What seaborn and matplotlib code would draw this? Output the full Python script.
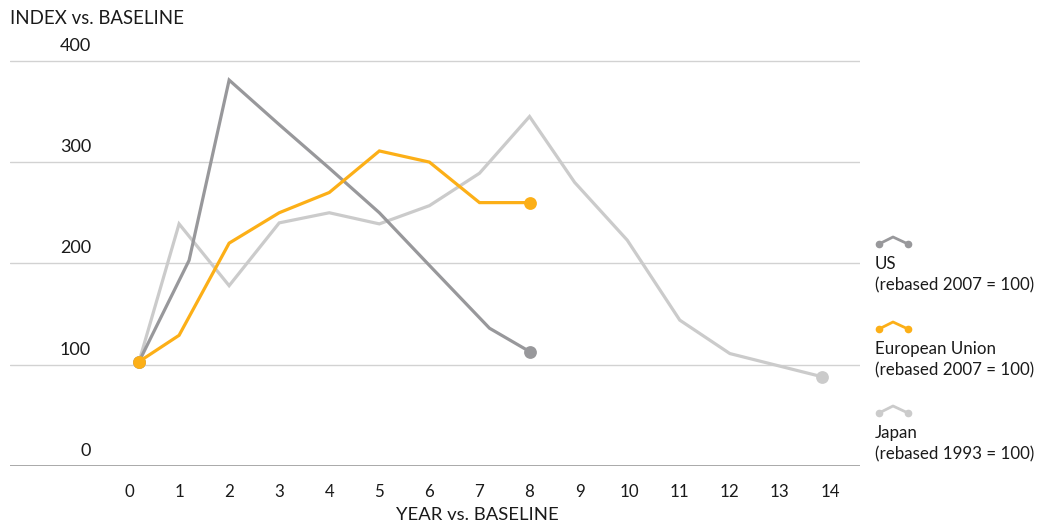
import matplotlib
matplotlib.use("Agg")
import matplotlib.pyplot as plt
from matplotlib.lines import Line2D
import matplotlib.transforms as mtransforms
import numpy as np
import pandas as pd
import seaborn as sns

# Series data (index vs. baseline, baseline = 100)
us_years = [0.2, 1.2, 2, 3, 4, 5, 6, 7.2, 8]
us_index = [103, 203, 381, 337, 294, 250, 198, 136, 113]

eu_years = [0.2, 1, 2, 3, 4, 5, 6, 7, 8]
eu_index = [103, 129, 220, 250, 270, 311, 300, 260, 260]

jp_years = [0.2, 1, 2, 3, 4, 5, 6, 7, 8, 8.9, 9.95, 11, 12, 13.85]
jp_index = [103, 239, 178, 240, 250, 239, 257, 289, 345, 280, 223, 144, 111, 88]

series_names = ["Japan", "US", "European Union"]
legend_notes = {
    "US": "(rebased 2007 = 100)",
    "European Union": "(rebased 2007 = 100)",
    "Japan": "(rebased 1993 = 100)",
}
colors = {"US": "#98989b", "European Union": "#fcaf17", "Japan": "#cbcbcb"}

x_ticks = list(range(0, 15))
y_ticks = [0, 100, 200, 300, 400]

frames = {
    "US": pd.DataFrame({"year": us_years, "index": us_index}),
    "European Union": pd.DataFrame({"year": eu_years, "index": eu_index}),
    "Japan": pd.DataFrame({"year": jp_years, "index": jp_index}),
}

sns.set_theme(style="white")
plt.rcParams["font.family"] = ["Lato", "DejaVu Sans"]
TXT = "#1a1a1a"

W, H = 1045, 526
fig = plt.figure(figsize=(W / 100, H / 100), dpi=100)
# axes area in pixels: left 10, right 860, top 30, bottom 466
ax = fig.add_axes([10 / W, (H - 466) / H, 850 / W, (466 - 30) / H])

px_per_year = 50.07
ax.set_xlim((10 - 129) / px_per_year, (860 - 129) / px_per_year)
ax.set_ylim(0, (466 - 30) / 1.013)

for z, name in enumerate(series_names):
    df = frames[name]
    sns.lineplot(data=df, x="year", y="index", ax=ax, color=colors[name],
                 linewidth=2.3, sort=False, estimator=None, zorder=3 + z,
                 solid_joinstyle="miter")
    ends = df.iloc[[0, -1]]
    sns.scatterplot(data=ends, x="year", y="index", ax=ax, color=colors[name],
                    s=85, linewidth=0, zorder=3 + z)

# gridlines and y labels sitting above each line
for v in y_ticks:
    if v == 0:
        ax.axhline(v, color="#a9a9a9", linewidth=1.4, zorder=1)
    else:
        ax.axhline(v, color="#d2d2d2", linewidth=1.0, zorder=1)
    trans = mtransforms.blended_transform_factory(ax.transAxes, ax.transData)
    trans = mtransforms.offset_copy(trans, fig=fig, x=0, y=15, units="dots")
    ax.text((91 - 10) / 850, v, str(v), transform=trans, ha="right",
            va="center", fontsize=13, color=TXT)

ax.set_yticks([])
ax.set_xticks(x_ticks)
ax.set_xticklabels([str(t) for t in x_ticks], fontsize=12.2, color=TXT)
ax.tick_params(axis="x", length=0, pad=13)
ax.set_xlabel("")
ax.set_ylabel("")
for s in ax.spines.values():
    s.set_visible(False)

fig.text(10 / W, 1 - 19 / H, "INDEX vs. BASELINE", ha="left", va="center",
         fontsize=13.4, color=TXT)
fig.text(477 / W, 1 - 515 / H, "YEAR vs. BASELINE", ha="center", va="center",
         fontsize=13.3, color=TXT)

# legend entries on the right
legend_rows = [("US", 244), ("European Union", 329), ("Japan", 413)]
for name, y_icon in legend_rows:
    xs = np.array([879, 893, 908]) / W
    ys = 1 - np.array([y_icon, y_icon - 7, y_icon]) / H
    fig.add_artist(Line2D(xs, ys, color=colors[name], linewidth=2.0,
                          transform=fig.transFigure))
    fig.add_artist(Line2D(xs[[0, 2]], ys[[0, 2]], linestyle="none",
                          marker="o", markersize=4.5, color=colors[name],
                          transform=fig.transFigure))
    fig.text(875 / W, 1 - (y_icon + 20) / H, name, ha="left", va="center",
             fontsize=12.2, color=TXT)
    fig.text(875 / W, 1 - (y_icon + 41) / H, legend_notes[name], ha="left",
             va="center", fontsize=12.2, color=TXT)

fig.savefig("out.png", dpi=100)
